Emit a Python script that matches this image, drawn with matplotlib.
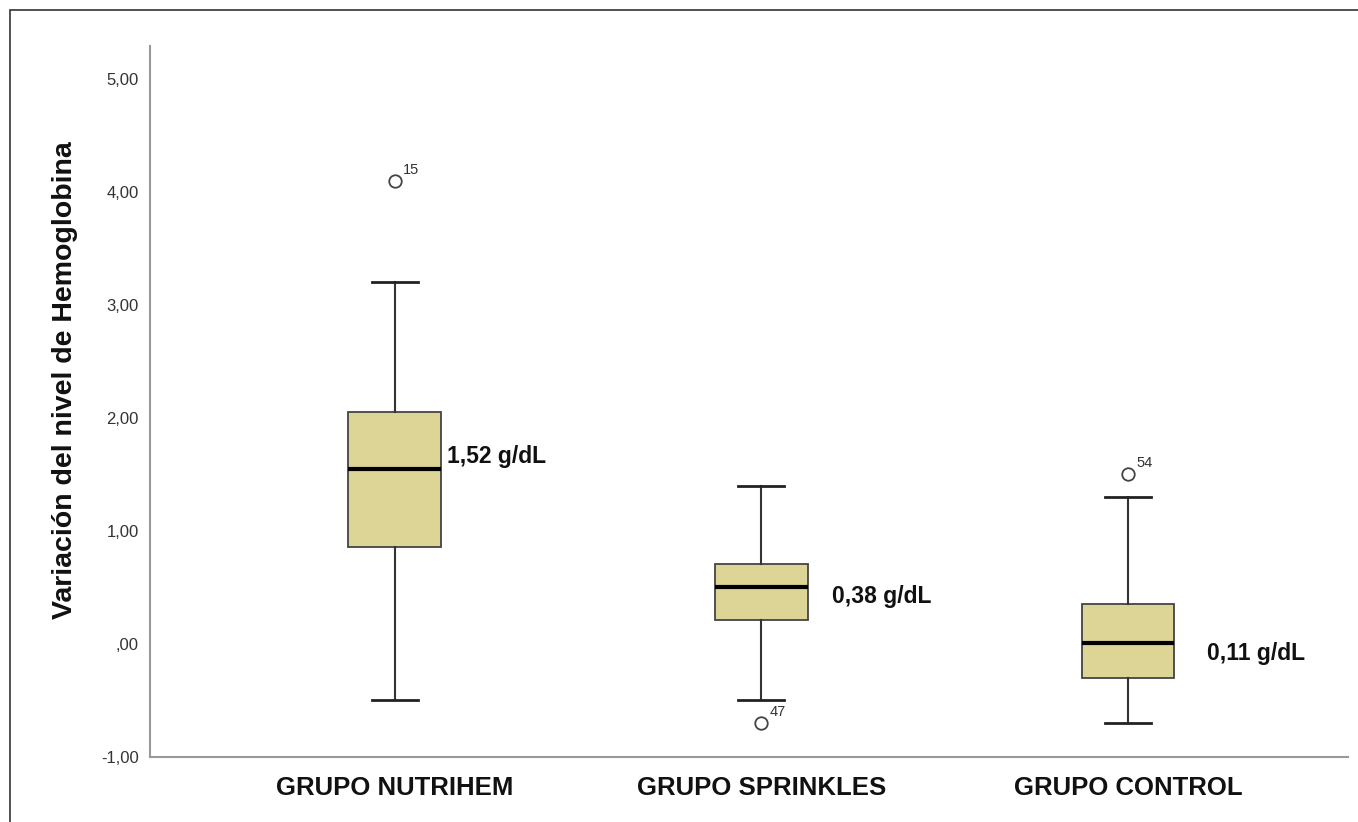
import matplotlib
matplotlib.use('Agg')
import matplotlib.pyplot as plt
from matplotlib.patches import Rectangle

plt.rcParams['font.family'] = ['Liberation Sans', 'DejaVu Sans']

# data
groups = ['GRUPO NUTRIHEM', 'GRUPO SPRINKLES', 'GRUPO CONTROL']
q1 = [0.86, 0.21, -0.30]
med = [1.55, 0.50, 0.01]
q3 = [2.05, 0.705, 0.35]
whislo = [-0.50, -0.50, -0.70]
whishi = [3.20, 1.40, 1.30]
outliers = [[4.10], [-0.70], [1.50]]
outlier_ids = [['15'], ['47'], ['54']]
mean_labels = ['1,52 g/dL', '0,38 g/dL', '0,11 g/dL']
label_x = [0.144, 1.193, 2.215]
label_y = [1.66, 0.42, -0.08]
yticks = [-1, 0, 1, 2, 3, 4, 5]
ytick_labels = ['-1,00', ',00', '1,00', '2,00', '3,00', '4,00', '5,00']

box_color = '#DCD596'

fig = plt.figure(figsize=(13.58, 8.22), dpi=100)
fig.patches.append(Rectangle((10/1358, -0.1), 1.2, 1 - 10/822 + 0.1,
                             transform=fig.transFigure, fill=False,
                             edgecolor='#333333', linewidth=1.2))
ax = fig.add_axes([150/1358, 1 - 757/822, 1198/1358, (757 - 46)/822])

stats = []
for i in range(len(groups)):
    stats.append({'label': groups[i], 'q1': q1[i], 'med': med[i], 'q3': q3[i],
                  'whislo': whislo[i], 'whishi': whishi[i], 'fliers': outliers[i]})

pos = list(range(len(groups)))
ax.bxp(stats, positions=pos, widths=0.253, capwidths=0.125, patch_artist=True,
       boxprops=dict(facecolor=box_color, edgecolor='#444444', linewidth=1.3),
       medianprops=dict(color='black', linewidth=3),
       whiskerprops=dict(color='#333333', linewidth=1.5),
       capprops=dict(color='#222222', linewidth=2),
       flierprops=dict(marker='o', markersize=9, markerfacecolor='none',
                       markeredgecolor='#444444', markeredgewidth=1.3))

for i in range(len(groups)):
    for v, lab in zip(outliers[i], outlier_ids[i]):
        ax.annotate(lab, (pos[i], v), xytext=(6, 5), textcoords='offset points',
                    fontsize=10.5, color='#333333')
    ax.text(label_x[i], label_y[i], mean_labels[i], fontsize=16.5,
            fontweight='bold', va='center', ha='left', color='#111111')

ax.set_xlim(-0.667, 2.60)
ax.set_ylim(-1, 5.29)
ax.set_yticks(yticks)
ax.set_yticklabels(ytick_labels, fontsize=12, color='#333333')
ax.set_xticks(pos)
ax.set_xticklabels(groups, fontsize=18.5, fontweight='bold', color='#111111')
ax.tick_params(axis='both', length=0)
ax.tick_params(axis='y', pad=8)
ax.tick_params(axis='x', pad=14)
ax.spines['top'].set_visible(False)
ax.spines['right'].set_visible(False)
ax.spines['left'].set_color('#999999')
ax.spines['bottom'].set_color('#999999')
ax.spines['left'].set_linewidth(1.5)
ax.spines['bottom'].set_linewidth(1.5)
ax.set_ylabel('Variación del nivel de Hemoglobina', fontsize=20.5, fontweight='bold',
              color='#111111', va='center')
ax.yaxis.set_label_coords(-0.071, 0.53)

fig.savefig('out.png', dpi=100)
